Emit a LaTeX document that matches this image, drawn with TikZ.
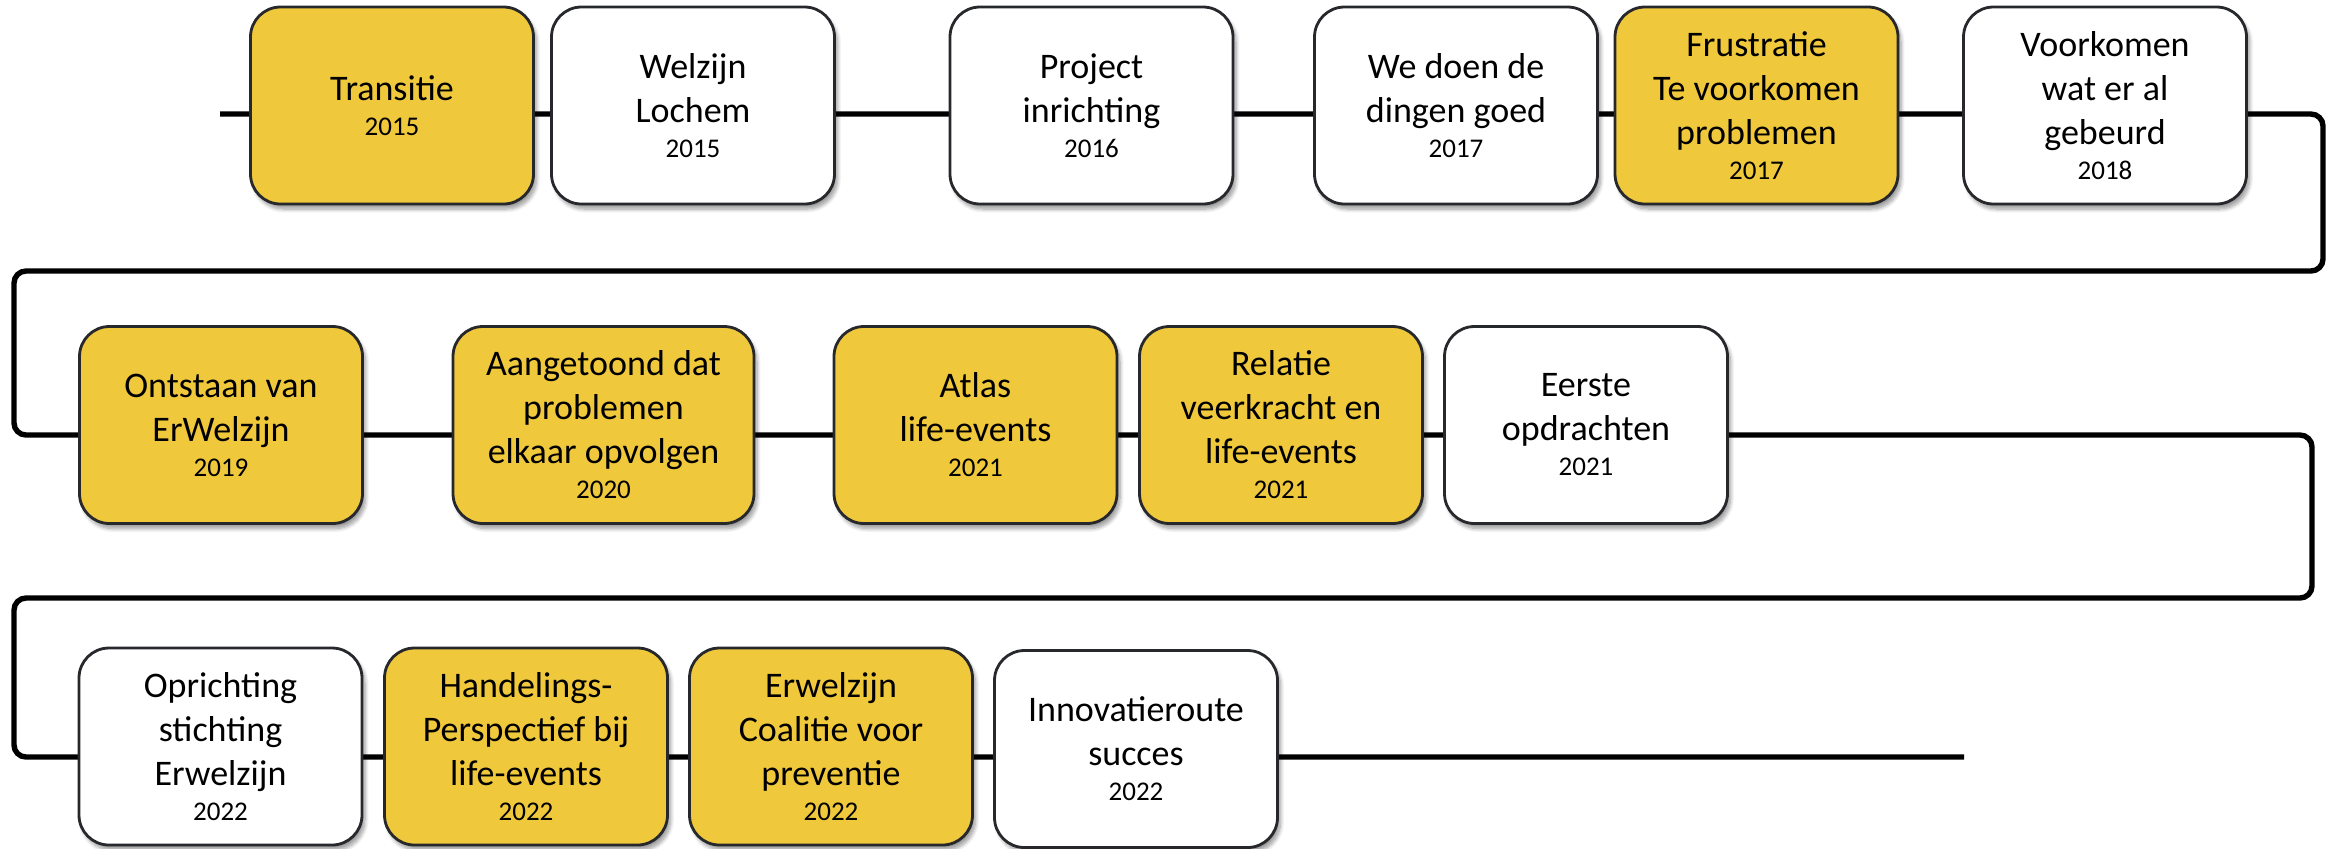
\documentclass[tikz,border=0pt]{standalone}
\usepackage{fontspec}
\setmainfont{Carlito}
\usetikzlibrary{backgrounds,shadows.blur}
\definecolor{geel}{HTML}{F0C83C}
\definecolor{rand}{HTML}{26282C}
\newcommand{\jaar}[1]{\\[-4.5pt]{\fontsize{13.5}{16}\selectfont #1}}

\begin{document}
\begin{tikzpicture}[x=0.5pt,y=-0.5pt,
  mijlpaal/.style={draw=rand, line width=1.4pt, rounded corners=15pt, fill=white,
    minimum width=141.5pt, minimum height=98.5pt, align=center, inner sep=2pt,
    font=\fontsize{18}{22}\selectfont,
    blur shadow={shadow xshift=1.5pt, shadow yshift=-2.5pt, shadow blur steps=8, shadow opacity=40}},
  geelbox/.style={mijlpaal, fill=geel},
  tijdlijn/.style={line width=2.7pt, rounded corners=6pt}]
\useasboundingbox (0,0) rectangle (2336,848);

% rij 1
\node[geelbox] (transitie) at (392,105.5) {Transitie\jaar{2015}};
\node[mijlpaal] (welzijn) at (693,105.5) {Welzijn\\Lochem\jaar{2015}};
\node[mijlpaal] (project) at (1091.5,105.5) {Project\\inrichting\jaar{2016}};
\node[mijlpaal] (dingen) at (1456,105.5) {We doen de\\dingen goed\jaar{2017}};
\node[geelbox] (frustratie) at (1756.5,105.5) {Frustratie\\Te voorkomen\\problemen\jaar{2017}};
\node[mijlpaal] (voorkomen) at (2105,105.5) {Voorkomen\\wat er al\\gebeurd\jaar{2018}};

% rij 2
\node[geelbox] (ontstaan) at (221,425) {Ontstaan van\\ErWelzijn\jaar{2019}};
\node[geelbox, minimum width=150.5pt] (aangetoond) at (603.5,425) {Aangetoond dat\\problemen\\elkaar opvolgen\jaar{2020}};
\node[geelbox] (atlas) at (975.5,425) {Atlas\\life-events\jaar{2021}};
\node[geelbox] (relatie) at (1281,425) {Relatie\\veerkracht en\\life-events\jaar{2021}};
\node[mijlpaal] (eerste) at (1586,425) {Eerste\\opdrachten\jaar{2021}};

% rij 3
\node[mijlpaal] (oprichting) at (220.5,746.5) {Oprichting\\stichting\\Erwelzijn\jaar{2022}};
\node[geelbox] (handelings) at (526,746.5) {Handelings-\\Perspectief bij\\life-events\jaar{2022}};
\node[geelbox] (coalitie) at (831,746.5) {Erwelzijn\\Coalitie voor\\preventie\jaar{2022}};
\node[mijlpaal] (innovatie) at (1136,749) {Innovatieroute\\succes\jaar{2022}};

% tijdlijn achter de blokken
\begin{scope}[on background layer]
\coordinate (begin) at (220,114);
\coordinate (r1a) at (2323,114);
\coordinate (r1b) at (2323,271);
\coordinate (l1a) at (14,271);
\coordinate (l1b) at (14,435);
\coordinate (r2a) at (2312,435);
\coordinate (r2b) at (2312,598);
\coordinate (l2a) at (14,598);
\coordinate (l2b) at (14,757);
\coordinate (eind) at (1964,757);
\draw[tijdlijn] (begin) -- (r1a) -- (r1b) -- (l1a) -- (l1b) -- (r2a) -- (r2b) -- (l2a) -- (l2b) -- (eind);
\end{scope}
\end{tikzpicture}
\end{document}
